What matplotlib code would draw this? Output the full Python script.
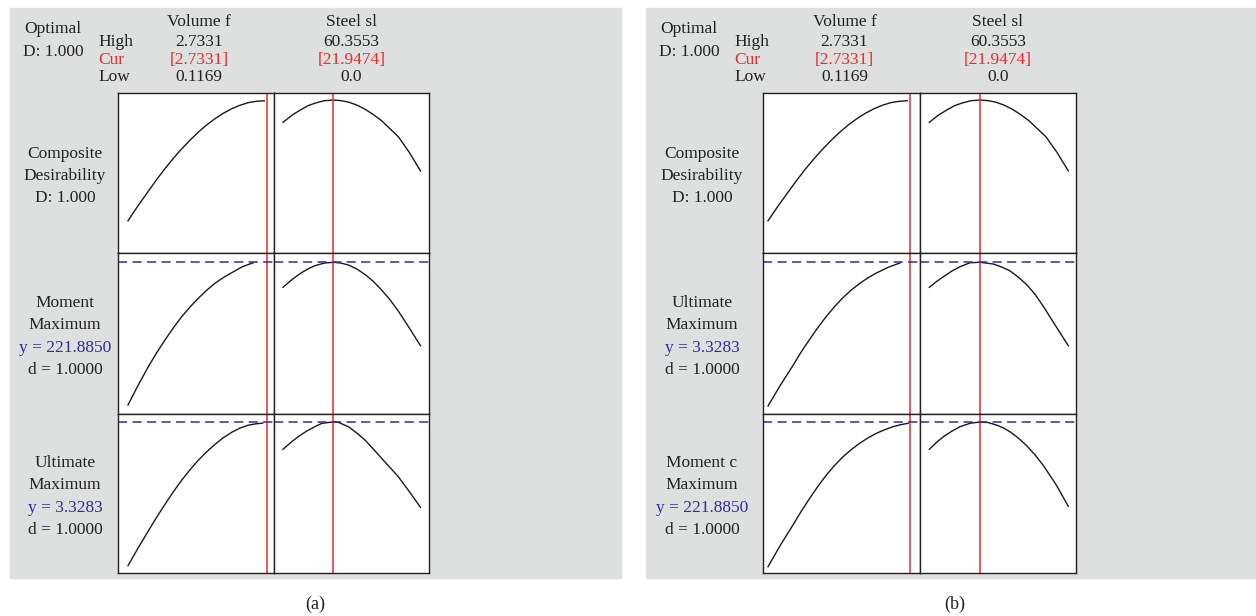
import matplotlib.pyplot as plt
from matplotlib.patches import Rectangle

plt.rcParams['font.family'] = ['Liberation Serif', 'DejaVu Serif']

# factor settings
vol_high, vol_cur, vol_low = 2.7331, 2.7331, 0.1169
steel_high, steel_cur, steel_low = 60.3553, 21.9474, 0.0
moment_y = 221.8850
ultimate_y = 3.3283

# composite desirability (same in both panels)
comp_vol_x = [0.1169, 0.31, 0.499, 0.656, 0.813, 0.97, 1.127, 1.284, 1.440,
              1.597, 1.754, 1.911, 2.069, 2.225, 2.381, 2.53, 2.682]
comp_vol_d = [0.173, 0.278, 0.375, 0.455, 0.530, 0.600, 0.665, 0.725, 0.780,
              0.829, 0.872, 0.909, 0.940, 0.964, 0.982, 0.991, 0.995]
comp_steel_x = [0.0, 4.1, 8.2, 11.1, 14.0, 18.0, 21.9474, 25.3, 28.7, 32.3,
                36.0, 39.6, 43.3, 46.9, 50.6, 55.5, 60.3553]
comp_steel_d = [0.847, 0.898, 0.937, 0.962, 0.978, 0.995, 1.0, 0.996, 0.986, 0.966,
                0.937, 0.901, 0.858, 0.804, 0.749, 0.640, 0.514]

# panel (a)
a_mom_vol_x = [0.1169, 0.31, 0.499, 0.656, 0.813, 0.97, 1.127, 1.284, 1.440,
               1.597, 1.754, 1.911, 2.069, 2.27, 2.476]
a_mom_vol_y = [122.0, 136.0, 148.8, 158.5, 167.5, 176.0, 183.8, 190.6, 196.7,
               202.3, 207.2, 211.2, 214.6, 218.8, 221.6]
a_mom_steel_x = [0.0, 4.1, 8.2, 11.1, 14.0, 18.0, 21.9474, 25.3, 28.7, 32.3,
                 36.0, 39.6, 43.3, 46.9, 50.6, 55.5, 60.3553]
a_mom_steel_y = [204.4, 210.0, 214.7, 217.4, 219.5, 221.3, 221.885, 221.4, 220.0, 217.3,
                 213.4, 208.6, 202.5, 195.8, 187.8, 175.8, 163.5]
a_ult_vol_x = [0.1169, 0.31, 0.499, 0.656, 0.813, 0.97, 1.127, 1.284, 1.440,
               1.597, 1.754, 1.911, 2.069, 2.225, 2.381, 2.52, 2.652]
a_ult_vol_y = [1.604, 1.820, 2.020, 2.185, 2.340, 2.490, 2.630, 2.755, 2.870,
               2.970, 3.060, 3.140, 3.205, 3.255, 3.290, 3.306, 3.315]
a_ult_steel_x = [0.0, 3.3, 6.7, 10.3, 14.0, 17.0, 21.9474, 24.3, 28.7, 32.3,
                 36.0, 39.6, 43.3, 46.9, 50.6, 55.5, 60.3553]
a_ult_steel_y = [3.000, 3.080, 3.152, 3.218, 3.272, 3.312, 3.3283, 3.324, 3.272, 3.198,
                 3.112, 3.005, 2.892, 2.785, 2.672, 2.492, 2.304]

# panel (b)
b_ult_vol_x = [0.1169, 0.347, 0.577, 0.731, 0.885, 1.039, 1.193, 1.346, 1.499,
               1.652, 1.806, 1.96, 2.114, 2.33, 2.547]
b_ult_vol_y = [1.604, 1.855, 2.090, 2.255, 2.405, 2.548, 2.680, 2.798, 2.905,
               2.996, 3.075, 3.143, 3.200, 3.268, 3.320]
b_ult_steel_x = [0.0, 3.0, 6.1, 9.7, 13.3, 17.7, 21.9474, 27.8, 31.4, 35.0,
                 38.65, 42.3, 45.9, 49.5, 55.0, 60.3553]
b_ult_steel_y = [3.028, 3.095, 3.155, 3.222, 3.275, 3.323, 3.3283, 3.308, 3.272, 3.227,
                 3.150, 3.060, 2.945, 2.800, 2.560, 2.327]
b_mom_vol_x = [0.1169, 0.347, 0.577, 0.731, 0.885, 1.039, 1.193, 1.346, 1.499,
               1.652, 1.806, 1.96, 2.114, 2.267, 2.420, 2.56, 2.697]
b_mom_vol_y = [120.6, 135.8, 149.8, 159.5, 168.5, 177.0, 184.8, 191.6, 197.6,
               202.6, 207.0, 210.8, 214.0, 216.5, 218.6, 220.0, 221.0]
b_mom_steel_x = [0.0, 3.0, 6.1, 9.7, 13.3, 17.7, 21.9474, 25.6, 29.3, 32.1,
                 35.0, 38.65, 42.3, 45.9, 49.5, 55.0, 60.3553]
b_mom_steel_y = [202.8, 207.4, 211.6, 215.4, 218.6, 221.0, 221.885, 221.5, 219.7, 217.8,
                 215.1, 210.7, 205.3, 198.9, 191.5, 178.2, 162.9]

W, H = 1256, 616
fig = plt.figure(figsize=(W / 100, H / 100), dpi=100)

RED = '#ee2a2a'
BLUE = '#2e2e9e'
INK = '#222222'
FS = 12.5


def box(x0, x1, y0, y1):
    return [x0 / W, 1 - y1 / H, (x1 - x0) / W, (y1 - y0) / H]


def txt(x, y, s, color=INK, ha='center', size=FS):
    fig.text(x / W, 1 - y / H, s, color=color, ha=ha, va='center', fontsize=size)


def panel(ox, cols, xlims, rows, caption, cap_x, label_x):
    fig.add_artist(Rectangle((ox[0] / W, 1 - 578 / H), (ox[1] - ox[0]) / W, 570 / H,
                             transform=fig.transFigure, color='#dedfdf', zorder=0))
    lx = ox[0]
    txt(lx + 43, 29, 'Optimal')
    txt(lx + 43, 52, 'D: 1.000')
    txt(lx + 88, 42, 'High', ha='left')
    txt(lx + 88, 60, 'Cur', color=RED, ha='left')
    txt(lx + 88, 77, 'Low', ha='left')
    cx = [(cols[0][0] + cols[0][1]) / 2 + 3, (cols[1][0] + cols[1][1]) / 2]
    txt(cx[0], 22, 'Volume f')
    txt(cx[0], 42, f'{vol_high:.4f}')
    txt(cx[0], 60, f'[{vol_cur:.4f}]', color=RED)
    txt(cx[0], 77, f'{vol_low:.4f}')
    txt(cx[1], 22, 'Steel sl')
    txt(cx[1], 42, f'{steel_high:.4f}')
    txt(cx[1], 60, f'[{steel_cur:.4f}]', color=RED)
    txt(cx[1], 77, f'{steel_low:.1f}')

    row_px = [(93, 253), (253, 414), (414, 573)]
    curs = [vol_cur, steel_cur]
    for r, (label_lines, target, ylim, curves) in enumerate(rows):
        y0, y1 = row_px[r]
        mid = (y0 + y1) / 2
        n = len(label_lines)
        for k, (s, c) in enumerate(label_lines):
            txt(label_x, mid + 3 + (k - (n - 1) / 2) * 22.5, s, color=c)
        for c in range(2):
            ax = fig.add_axes(box(cols[c][0], cols[c][1], y0, y1))
            ax.set_facecolor('white')
            xs, ys = curves[c]
            ax.plot(xs, ys, color='#1a1a1a', lw=1.0)
            ax.axvline(curs[c], color=RED, lw=1.1)
            if target is not None:
                ax.axhline(target, color=BLUE, lw=1.1, linestyle=(0, (6, 3.5)))
            ax.set_xlim(xlims[c])
            ax.set_ylim(ylim)
            ax.set_xticks([])
            ax.set_yticks([])
            for sp in ax.spines.values():
                sp.set_linewidth(1.0)
                sp.set_color(INK)
    txt(cap_x, 604, caption, size=13)


rows_a = [
    ([('Composite', INK), ('Desirability', INK), ('D: 1.000', INK)],
     None, (-0.048, 1.048),
     [(comp_vol_x, comp_vol_d), (comp_steel_x, comp_steel_d)]),
    ([('Moment', INK), ('Maximum', INK), (f'y = {moment_y:.4f}', BLUE), ('d = 1.0000', INK)],
     moment_y, (115.7, 228.4),
     [(a_mom_vol_x, a_mom_vol_y), (a_mom_steel_x, a_mom_steel_y)]),
    ([('Ultimate', INK), ('Maximum', INK), (f'y = {ultimate_y:.4f}', BLUE), ('d = 1.0000', INK)],
     ultimate_y, (1.5163, 3.4243),
     [(a_ult_vol_x, a_ult_vol_y), (a_ult_steel_x, a_ult_steel_y)]),
]
panel((10, 621), [(118, 274), (274, 429)], [(-0.0713, 2.8649), (-3.95, 64.09)],
      rows_a, '(a)', 315, 65)

rows_b = [
    ([('Composite', INK), ('Desirability', INK), ('D: 1.000', INK)],
     None, (-0.048, 1.048),
     [(comp_vol_x, comp_vol_d), (comp_steel_x, comp_steel_d)]),
    ([('Ultimate', INK), ('Maximum', INK), (f'y = {ultimate_y:.4f}', BLUE), ('d = 1.0000', INK)],
     ultimate_y, (1.508, 3.440),
     [(b_ult_vol_x, b_ult_vol_y), (b_ult_steel_x, b_ult_steel_y)]),
    ([('Moment c', INK), ('Maximum', INK), (f'y = {moment_y:.4f}', BLUE), ('d = 1.0000', INK)],
     moment_y, (116.2, 227.5),
     [(b_mom_vol_x, b_mom_vol_y), (b_mom_steel_x, b_mom_steel_y)]),
]
panel((646, 1256), [(763, 920), (920, 1076)], [(0.0248, 2.9173), (-4.04, 63.70)],
      rows_b, '(b)', 955, 702)

fig.savefig('out.png', dpi=100, facecolor='white')
